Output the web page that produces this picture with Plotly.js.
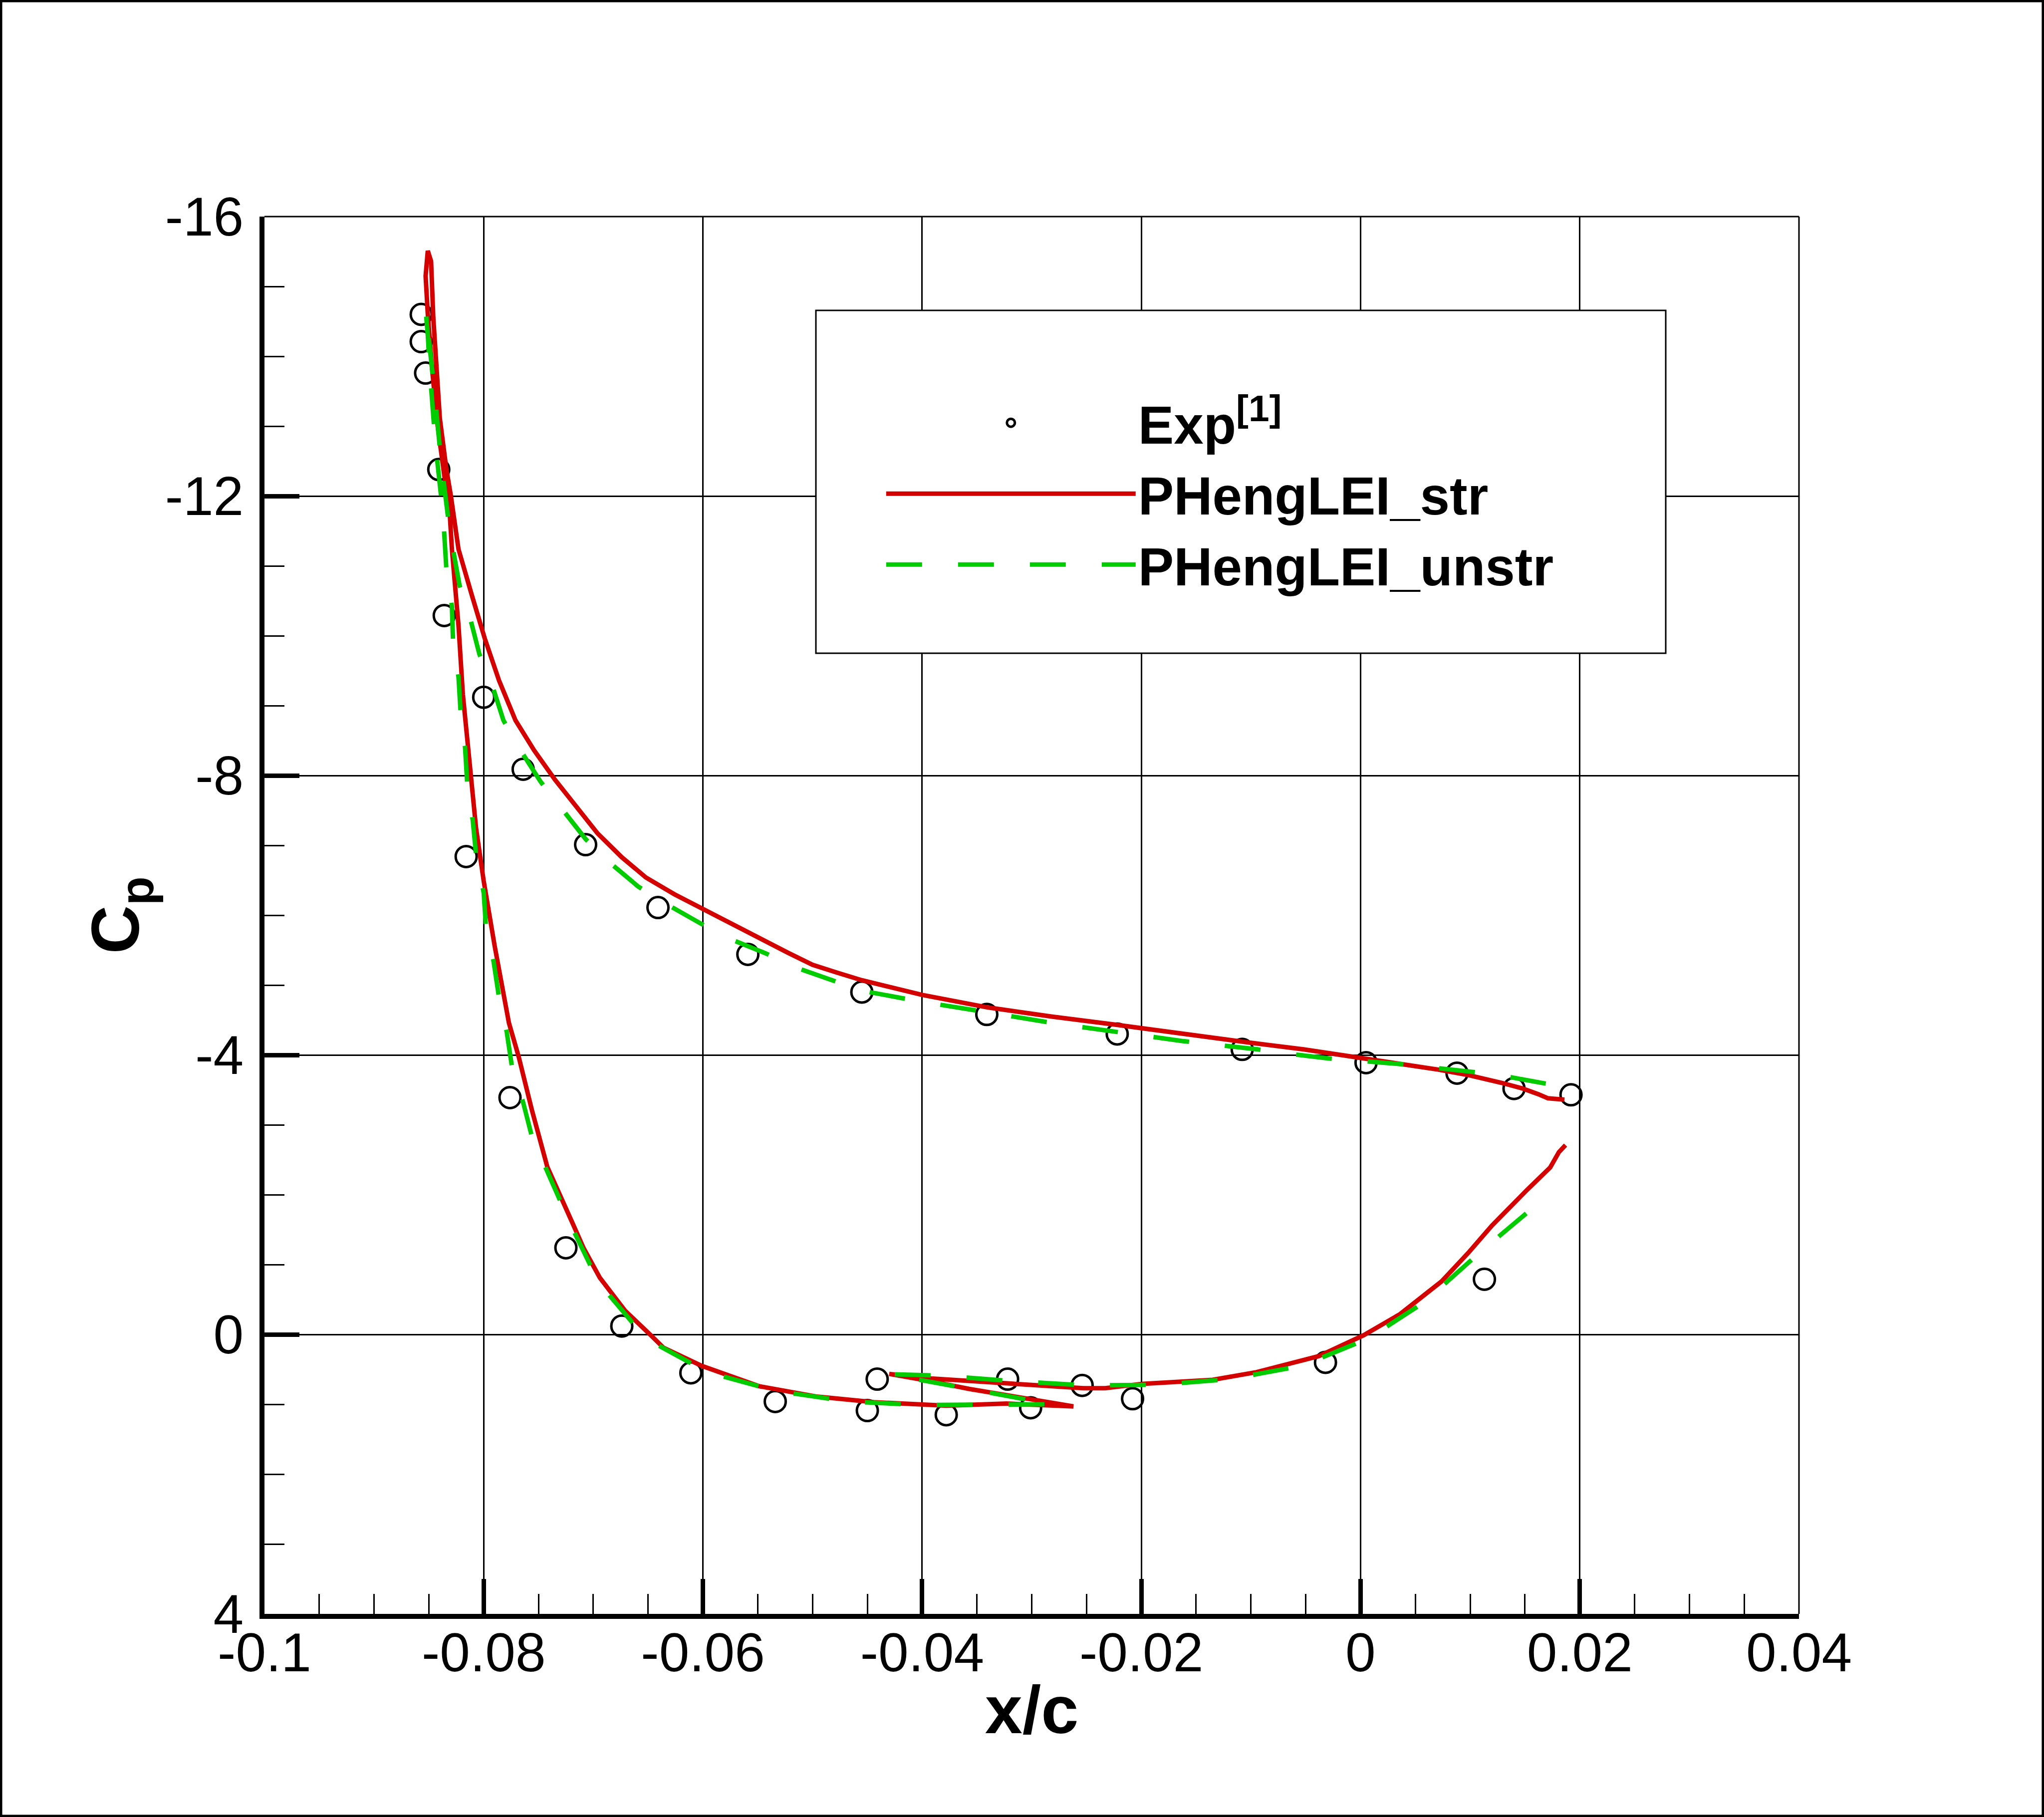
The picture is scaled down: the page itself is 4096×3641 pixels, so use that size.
<!DOCTYPE html>
<html>
<head>
<meta charset="utf-8">
<script src="https://cdn.plot.ly/plotly-3.0.1.min.js"></script>
<style>
html,body{margin:0;padding:0;background:#fff;}
#chart{width:4096px;height:3641px;}
</style>
</head>
<body>
<div id="chart"></div>
<script>
// ---- Experimental data (open circles) ----
const expX = [-0.0857, -0.0857, -0.0853, -0.0841, -0.0836, -0.0800, -0.0764, -0.0816, -0.0707, -0.0641,
              -0.0559, -0.0455, -0.0341, -0.0222, -0.0108, 0.0005, 0.0088, 0.0140, 0.0192,
              -0.0776, -0.0725, -0.0674, -0.0611, -0.0534, -0.0450, -0.0441, -0.0378, -0.0322,
              -0.0301, -0.0254, -0.0208, -0.0032, 0.0113];
const expY = [-14.60, -14.21, -13.76, -12.38, -10.29, -9.12, -8.09, -6.84, -7.01, -6.11,
              -5.44, -4.90, -4.58, -4.30, -4.08, -3.89, -3.74, -3.52, -3.43,
              -3.39, -1.24, -0.12, 0.55, 0.96, 1.09, 0.64, 1.15, 0.64,
              1.05, 0.73, 0.92, 0.40, -0.79];

// ---- PHengLEI structured grid (solid red), one continuous surface path ----
const strX = [0.0186, 0.0171, 0.0162, 0.0148, 0.0129, 0.0099, 0.0071, 0.0002, -0.0052, -0.0103,
              -0.0163, -0.0222, -0.0282, -0.0340, -0.0400, -0.0455, -0.0478, -0.0500, -0.0522, -0.0547, -0.0573,
              -0.0599, -0.0626, -0.0652, -0.0674, -0.0696, -0.0719, -0.0735, -0.0754, -0.0771, -0.0786,
              -0.0799, -0.0811, -0.0823, -0.0830, -0.0834, -0.0840, -0.0843, -0.0846, -0.0848, -0.0851,
              -0.0853, -0.0851, -0.0847, -0.0842, -0.0836, -0.0831, -0.0829, -0.0826, -0.0823, -0.0819,
              -0.0813, -0.0807, -0.0800, -0.0790, -0.0777, -0.0768, -0.0756, -0.0747, -0.0742, -0.0718,
              -0.0709, -0.0694, -0.0671, -0.0647, -0.0636, -0.0601, -0.0549, -0.0496, -0.0444, -0.0378,
              -0.0323, -0.0262,
              -0.0305, -0.0357, -0.0392, -0.0430,
              -0.0392, -0.0323, -0.0253, -0.0233, -0.0201, -0.0135, -0.0095, -0.0038, 0.0003, 0.0036,
              0.0074, 0.0099, 0.0120, 0.0152, 0.0173, 0.0181, 0.0187];
const strY = [-3.36, -3.38, -3.44, -3.52, -3.60, -3.71, -3.79, -3.96, -4.08, -4.18,
              -4.31, -4.43, -4.55, -4.68, -4.86, -5.07, -5.18, -5.29, -5.46, -5.66, -5.86,
              -6.08, -6.30, -6.54, -6.83, -7.17, -7.61, -7.94, -8.36, -8.79, -9.36,
              -9.96, -10.59, -11.24, -12.01, -12.38, -13.11, -13.84, -14.56, -15.36, -15.51,
              -15.15, -14.60, -13.80, -13.00, -12.30, -11.75, -11.24, -10.67, -10.15, -9.16,
              -8.19, -7.25, -6.49, -5.56, -4.46, -3.97, -3.21, -2.67, -2.40, -1.56,
              -1.24, -0.81, -0.34, 0.02, 0.19, 0.45, 0.74, 0.89, 0.97, 1.02,
              0.99, 1.03,
              0.92, 0.78, 0.67, 0.565,
              0.63, 0.70, 0.77, 0.77, 0.71, 0.65, 0.54, 0.31, 0.01, -0.29,
              -0.76, -1.18, -1.56, -2.07, -2.39, -2.61, -2.71];

// ---- PHengLEI unstructured grid (dashed green) ----
const unstrX = [0.0169, 0.0134, 0.0101, 0.0069, 0.0036, 0.0004, -0.0029, -0.0061, -0.0094, -0.0163,
                -0.0222, -0.0282, -0.0340, -0.0400, -0.0455, -0.0522, -0.0542, -0.0572, -0.0603, -0.0631,
                -0.0659, -0.0684, -0.0707, -0.0727, -0.0748, -0.0766, -0.0782, -0.0792, -0.0804, -0.0812,
                -0.0822, -0.0831, -0.0839, -0.0845, -0.0850, -0.0853,
                -0.0851, -0.0849, -0.0844, -0.0837, -0.0834, -0.0829, -0.0828, -0.0823, -0.0821, -0.0817,
                -0.0815, -0.0810, -0.0807, -0.0800, -0.0798, -0.0791, -0.0786, -0.0779, -0.0774, -0.0764,
                -0.0756, -0.0720, -0.0695, -0.0652, -0.0596, -0.0533, -0.0467, -0.0403, -0.0336, -0.0281,
                -0.0295, -0.0357, -0.0416, -0.0430,
                -0.0382, -0.0316, -0.0249, -0.0184, -0.0119, -0.0054, 0.0007, 0.0058, 0.0110, 0.0160,
                0.0173];
const unstrY = [-3.59, -3.69, -3.76, -3.82, -3.87, -3.91, -3.95, -4.01, -4.08, -4.20,
                -4.33, -4.46, -4.61, -4.76, -4.92, -5.29, -5.45, -5.64, -5.89, -6.14,
                -6.41, -6.74, -7.09, -7.50, -7.91, -8.35, -8.79, -9.28, -9.74, -10.23,
                -10.72, -11.50, -12.52, -13.51, -14.30, -14.67,
                -14.30, -13.76, -12.74, -11.72, -10.94, -10.42, -9.93, -9.41, -8.89, -8.40,
                -7.88, -7.36, -6.87, -6.32, -5.84, -5.34, -4.82, -4.33, -3.81, -3.32,
                -2.83, -1.55, -0.74, 0.06, 0.54, 0.81, 0.96, 1.01, 1.01, 1.00,
                0.96, 0.78, 0.61, 0.57,
                0.59, 0.67, 0.73, 0.72, 0.64, 0.45, 0.06, -0.46, -1.19, -1.86,
                -2.02];

// ---- Tick labels ----
const xTickVals = [-0.1, -0.08, -0.06, -0.04, -0.02, 0, 0.02, 0.04];
const xTickText = ['-0.1', '-0.08', '-0.06', '-0.04', '-0.02', '0', '0.02', '0.04'];
const yTickVals = [-16, -12, -8, -4, 0, 4];
const yTickText = ['-16', '-12', '-8', '-4', '0', '4'];

const FONT = 'Liberation Sans, Arial, Helvetica, sans-serif';

const traces = [
  {
    x: expX, y: expY, type: 'scatter', mode: 'markers', name: 'Exp<sup>[1]</sup>',
    marker: {symbol: 'circle-open', size: 42, color: '#000000', line: {width: 5, color: '#000000'}}
  },
  {
    x: strX, y: strY, type: 'scatter', mode: 'lines', name: 'PHengLEI_str',
    line: {color: '#d40000', width: 9}
  },
  {
    x: unstrX, y: unstrY, type: 'scatter', mode: 'lines', name: 'PHengLEI_unstr',
    line: {color: '#00cc00', width: 9, dash: '72px,72px'}
  }
];

const axisCommon = {
  ticks: 'inside', ticklen: 70, tickwidth: 9, tickcolor: '#000',
  showline: true, linewidth: 10, linecolor: '#000',
  showgrid: true, gridcolor: '#000', gridwidth: 3,
  zeroline: false, tickmode: 'array',
  tickfont: {family: FONT, size: 109, color: '#000'}
};

const layout = {
  width: 4096, height: 3641,
  margin: {l: 530, r: 491, t: 434, b: 407, pad: 0},
  paper_bgcolor: '#fff', plot_bgcolor: '#fff',
  font: {family: FONT, color: '#000'},
  showlegend: true,
  xaxis: Object.assign({}, axisCommon, {
    range: [-0.1, 0.04], tickvals: xTickVals, ticktext: xTickText,
    ticklabelstandoff: -26,
    minor: {ticks: 'inside', ticklen: 40, tickwidth: 3, tickcolor: '#000', dtick: 0.005, tick0: -0.1, showgrid: false},
    title: {text: 'x/c', font: {family: FONT, size: 135, color: '#000', weight: 'bold'}, standoff: 12}
  }),
  yaxis: Object.assign({}, axisCommon, {
    range: [4, -16], tickvals: yTickVals, ticktext: yTickText,
    minor: {ticks: 'inside', ticklen: 40, tickwidth: 3, tickcolor: '#000', dtick: 1, tick0: -16, showgrid: false},
    ticklabelstandoff: 10,
    title: {text: 'C<sub>p</sub>', font: {family: FONT, size: 135, color: '#000', weight: 'bold'}, standoff: 10}
  }),
  legend: {
    x: 0.4035, y: 0.8796, xanchor: 'left', yanchor: 'top',
    bgcolor: 'rgba(0,0,0,0)', borderwidth: 0,
    itemwidth: 500,
    font: {family: FONT, size: 107, color: '#000', weight: 'bold'}
  },
  shapes: [
    // top and right frame of the plot area (thin)
    {type: 'line', xref: 'paper', yref: 'paper', x0: 0, x1: 1, y0: 1, y1: 1, line: {color: '#000', width: 3}, layer: 'above'},
    {type: 'line', xref: 'paper', yref: 'paper', x0: 1, x1: 1, y0: 0, y1: 1, line: {color: '#000', width: 3}, layer: 'above'},
    // legend box
    {type: 'rect', xref: 'paper', yref: 'paper', x0: 0.35935, x1: 0.91317, y0: 0.6875, y1: 0.93286,
     line: {color: '#000', width: 3}, fillcolor: '#fff', layer: 'above'},
    // outer figure border
    {type: 'rect', xref: 'paper', yref: 'paper', x0: -0.1717, x1: 1.1590, y0: -0.1446, y1: 1.1543,
     line: {color: '#000', width: 5}, fillcolor: 'rgba(0,0,0,0)', layer: 'above'}
  ]
};

Plotly.newPlot('chart', traces, layout, {staticPlot: true, displayModeBar: false});
</script>
</body>
</html>
